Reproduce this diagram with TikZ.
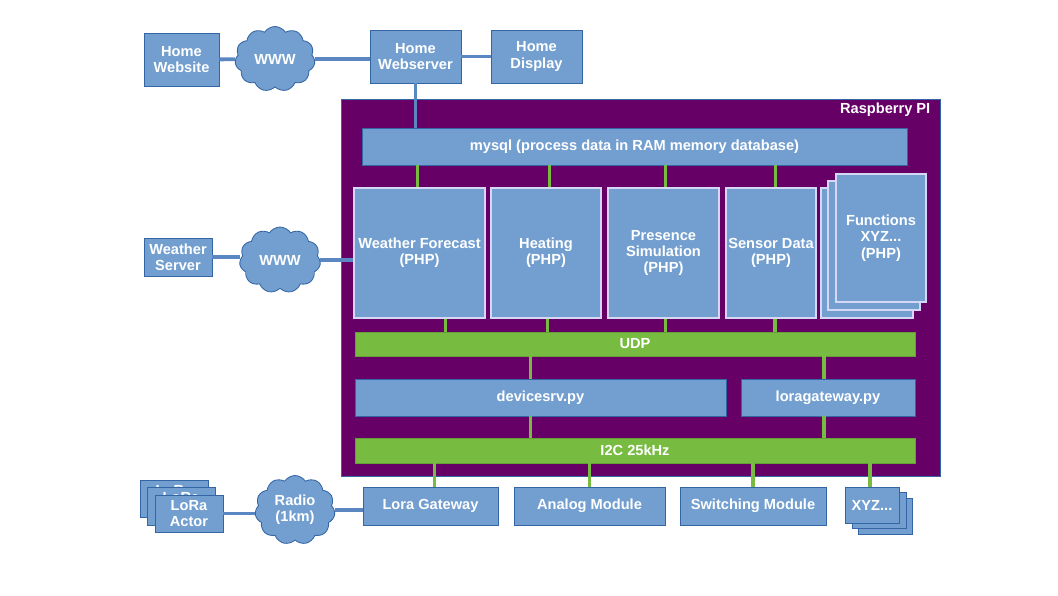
\documentclass[tikz,border=0pt]{standalone}
\usepackage{fontspec}
\setmainfont{Liberation Sans}
\usetikzlibrary{shapes.symbols}

\definecolor{boxblue}{HTML}{729FCF}
\definecolor{edgeblue}{HTML}{3465A4}
\definecolor{wireblue}{HTML}{5A86C2}
\definecolor{pipurple}{HTML}{660066}
\definecolor{busgreen}{HTML}{77BC41}
\definecolor{phpedge}{HTML}{D6D6F5}

\begin{document}
\begin{tikzpicture}[
    x=0.025cm, y=-0.025cm,
    every node/.style={font=\fontsize{10.4}{11.6}\selectfont\bfseries, text=white, align=center, inner sep=1pt},
    sz/.style 2 args={minimum width=#1*0.025cm, minimum height=#2*0.025cm},
    blk/.style={rectangle, fill=boxblue, draw=edgeblue, line width=0.6pt},
    php/.style={rectangle, fill=boxblue, draw=phpedge, line width=0.8pt},
    bus/.style={rectangle, fill=busgreen, draw=busgreen!85!black, line width=0.4pt},
    wolke/.style={cloud, cloud puffs=11, cloud puff arc=115, aspect=1.25, inner sep=0pt, fill=boxblue, draw=edgeblue, line width=0.6pt},
    wire/.style={draw=wireblue, line width=2.8pt},
    gwire/.style={draw=busgreen, line width=2.2pt}
]
\useasboundingbox (0,0) rectangle (1058,595);

% Raspberry PI frame
\node[rectangle, fill=pipurple, draw=edgeblue, line width=0.6pt, sz={599}{377}] (rpi) at (640.5,287.5) {};
\node[anchor=east] (rpilabel) at (932,110) {Raspberry PI};

% outside world, top
\node[blk, sz={75}{53}] (homesite) at (181.5,59.5) {Home\\Website};
\node[wolke, sz={80}{65}] (www1) at (275,59) {WWW};
\node[blk, sz={91}{53}] (websrv) at (415.5,56.5) {Home\\Webserver};
\node[blk, sz={91}{53}] (display) at (536.5,56.5) {Home\\Display};

% database
\node[blk, sz={545}{37}] (mysql) at (634.5,146.5) {mysql (process data in RAM memory database)};

% PHP functions
\node[php, sz={131}{130}] (wf) at (419.5,253) {Weather Forecast\\(PHP)};
\node[php, sz={110}{130}] (heat) at (546,253) {Heating\\(PHP)};
\node[php, sz={111}{130}] (pres) at (663.5,253) {Presence\\Simulation\\(PHP)};
\node[php, sz={90}{130}] (sens) at (771,253) {Sensor Data\\(PHP)};
\node[php, sz={92}{130}] (func3) at (867,253) {};
\node[php, sz={92}{129}] (func2) at (874,245.5) {};
\node[php, sz={90}{128}] (func1) at (881,238) {Functions\\XYZ...\\(PHP)};

% weather source
\node[blk, sz={68}{38}] (wsrv) at (178,257) {Weather\\Server};
\node[wolke, sz={81}{66}] (www2) at (280,260) {WWW};

% buses and services
\node[bus, sz={560}{24}] (udp) at (635,344) {UDP};
\node[blk, sz={371}{37}] (devsrv) at (540.5,397.5) {devicesrv.py};
\node[blk, sz={174}{37}] (lora) at (828,397.5) {loragateway.py};
\node[bus, sz={560}{25}] (i2c) at (635,450.5) {I2C 25kHz};

% hardware modules
\node[blk, sz={135}{38}] (lgw) at (430.5,506) {Lora Gateway};
\node[blk, sz={151}{38}] (analog) at (589.5,506) {Analog Module};
\node[blk, sz={146}{38}] (switch) at (753,506) {Switching Module};
\node[blk, sz={54}{36}] (xyz3) at (885.5,516) {};
\node[blk, sz={54}{36}] (xyz2) at (879,510.5) {};
\node[blk, sz={54}{36}] (xyz1) at (872,505) {XYZ...};

% LoRa actors
\node[blk, sz={68}{37}] (actor3) at (174,498.5) {LoRa\\Actor};
\node[blk, sz={68}{38}] (actor2) at (181,506) {LoRa\\Actor};
\node[blk, sz={68}{37}] (actor1) at (189,513.5) {LoRa\\Actor};
\node[wolke, sz={80}{69}] (radio) at (295,510) {Radio\\(1km)};

% blue links
\draw[wire] (homesite) -- (www1);
\draw[wire] (www1.east) -- (www1.east -| websrv.west);
\draw[wire] (websrv) -- (display);
\draw[wire] (websrv.south) -- (websrv.south |- mysql.north);
\draw[wire] (wsrv.east) -- (wsrv.east -| www2.west);
\draw[wire] (www2.east) -- (www2.east -| wf.west);
\draw[wire] (actor1.east) -- (actor1.east -| radio.west);
\draw[wire] (radio.east) -- (radio.east -| lgw.west);

% green links
\foreach \n/\s in {wf/-0.04cm,heat/0.08cm,pres/0.06cm,sens/0.12cm}
  \draw[gwire] ([xshift=\s]\n.north) -- ([xshift=\s]\n.north |- mysql.south);
\foreach \n/\s in {wf/0.66cm,heat/0.03cm,pres/0.04cm,sens/0.1cm}
  \draw[gwire] ([xshift=\s]\n.south) -- ([xshift=\s]\n.south |- udp.north);
\draw[gwire] ([xshift=-0.26cm]devsrv.north) -- ([xshift=-0.26cm]devsrv.north |- udp.south);
\draw[gwire] ([xshift=-0.1cm]lora.north) -- ([xshift=-0.1cm]lora.north |- udp.south);
\draw[gwire] ([xshift=-0.26cm]devsrv.south) -- ([xshift=-0.26cm]devsrv.south |- i2c.north);
\draw[gwire] ([xshift=-0.1cm]lora.south) -- ([xshift=-0.1cm]lora.south |- i2c.north);
\draw[gwire] ([xshift=0.11cm]lgw.north) -- ([xshift=0.11cm]lgw.north |- i2c.south);
\foreach \n in {analog,switch}
  \draw[gwire] (\n.north) -- (\n.north |- i2c.south);
\draw[gwire] ([xshift=-0.05cm]xyz1.north) -- ([xshift=-0.05cm]xyz1.north |- i2c.south);

\end{tikzpicture}
\end{document}
